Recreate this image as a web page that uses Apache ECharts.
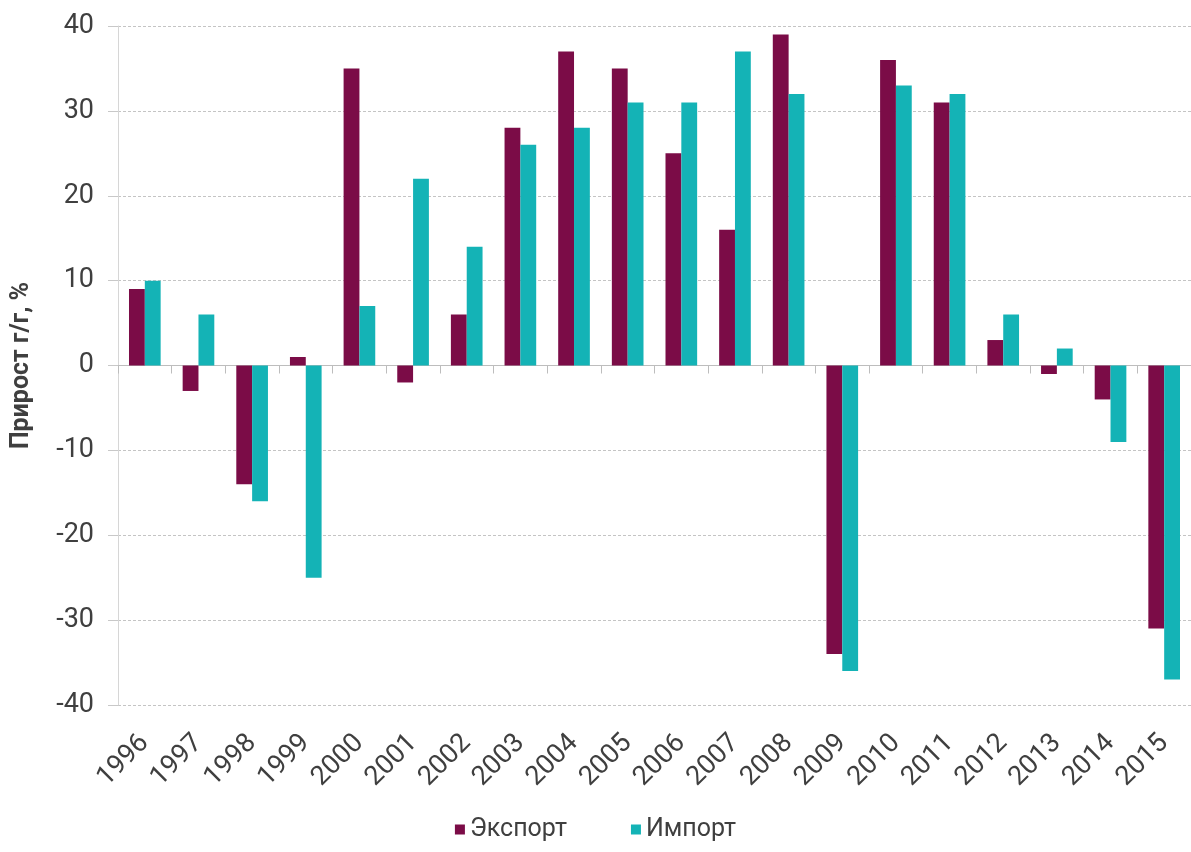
<!DOCTYPE html>
<html><head><meta charset="utf-8">
<script src="https://cdn.jsdelivr.net/npm/echarts@6/dist/echarts.min.js"></script>
<style>html,body{margin:0;padding:0;background:#fff}#c{width:1191px;height:852px}</style>
</head><body><div id="c"></div>
<script>
const years = ['1996','1997','1998','1999','2000','2001','2002','2003','2004','2005','2006','2007','2008','2009','2010','2011','2012','2013','2014','2015'];
const exportVals = [9,-3,-14,1,35,-2,6,28,37,35,25,16,39,-34,36,31,3,-1,-4,-31];
const importVals = [10,6,-16,-25,7,22,14,26,28,31,31,37,32,-36,33,32,6,2,-9,-37];
const seriesNames = ['Экспорт','Импорт'];
const colors = ['#7b0c47','#14b3b6'];
const txt = '#3f3f3f';
const font = 'Roboto, sans-serif';

const chart = echarts.init(document.getElementById('c'));
chart.setOption({
  animation:false,
  textStyle:{fontFamily:font},
  grid:{left:118,right:-12,top:26,bottom:147},
  legend:{bottom:5,left:'center',itemWidth:10,itemHeight:10,itemGap:64,
    icon:'rect',textStyle:{fontSize:25,color:txt,fontFamily:font},data:seriesNames},
  xAxis:[{type:'category',data:years,position:'bottom',
    axisLine:{onZero:true,lineStyle:{color:'#bdbdbd',width:1}},
    axisTick:{show:true,length:8,lineStyle:{color:'#bdbdbd'}},
    axisLabel:{show:false}},
   {type:'category',data:years,position:'bottom',gridIndex:0,
    axisLine:{show:false},axisTick:{show:false},
    axisLabel:{rotate:45,fontSize:27,color:txt,fontFamily:font,margin:34}}],
  yAxis:{type:'value',min:-40,max:40,interval:10,
    name:'Прирост г/г, %',nameLocation:'middle',nameRotate:90,nameGap:84,
    nameTextStyle:{fontSize:25,fontWeight:'bold',color:txt,fontFamily:font},
    axisLine:{show:true,lineStyle:{color:'#d6d6d6'}},
    axisTick:{show:true,length:10,lineStyle:{color:'#c8c8c8'}},
    axisLabel:{fontSize:27,color:txt,fontFamily:font,margin:24},
    splitLine:{lineStyle:{color:'#c4c4c4',type:[3,2]}}},
  series:[
    {name:seriesNames[0],type:'bar',data:exportVals,itemStyle:{color:colors[0]},barGap:'0%',barCategoryGap:'41%',xAxisIndex:0},
    {name:seriesNames[1],type:'bar',data:importVals,itemStyle:{color:colors[1]},barGap:'0%',barCategoryGap:'41%',xAxisIndex:0}
  ]
});
</script></body></html>
